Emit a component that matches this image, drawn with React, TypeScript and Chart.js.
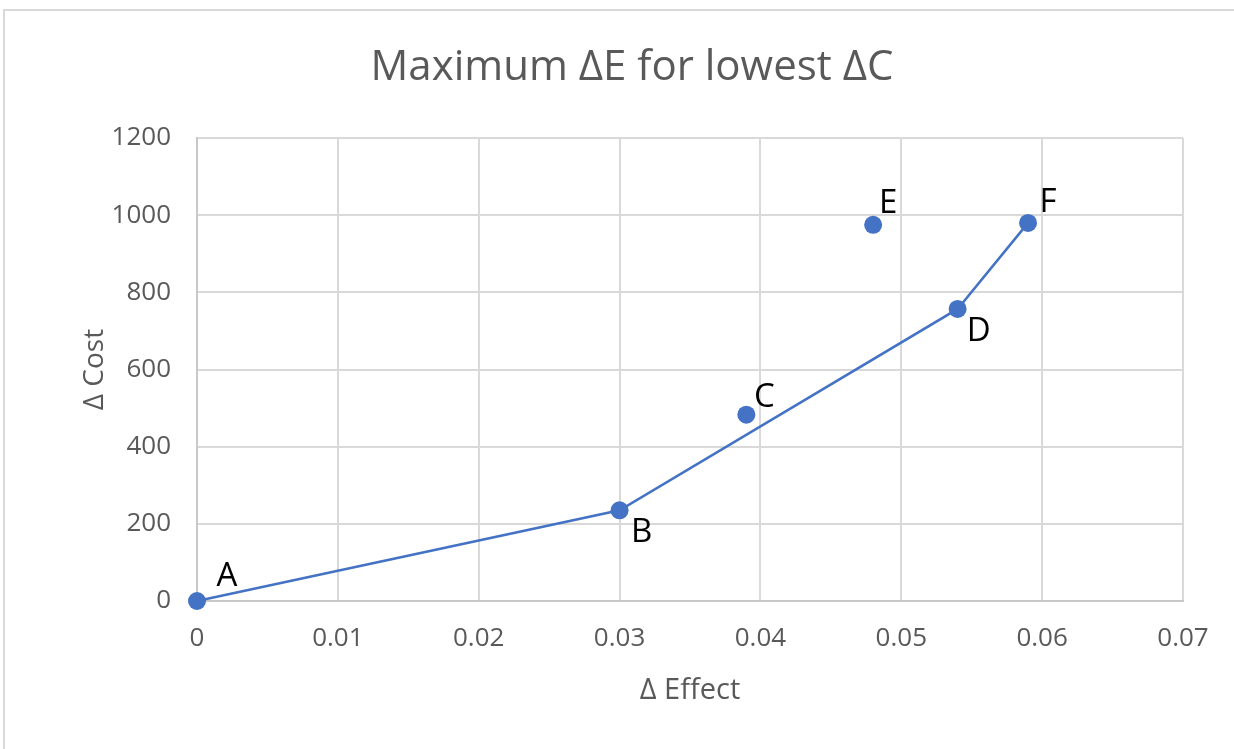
import React, { useEffect, useRef } from "react";
import { Chart, registerables } from "chart.js";

Chart.register(...registerables);

// ---- data ----
const chartTitle = "Maximum ΔE for lowest ΔC";
const pointNames = ["A", "B", "C", "D", "E", "F"];
const effectValues = [0, 0.03, 0.039, 0.054, 0.048, 0.059];
const costValues = [0, 235, 483, 757, 975, 980];
const frontierNames = ["A", "B", "D", "F"];
const xTicks = [0, 0.01, 0.02, 0.03, 0.04, 0.05, 0.06, 0.07];
const yTicks = [0, 200, 400, 600, 800, 1000, 1200];

// ---- label placement (style, not data) ----
const labelOffsets: Record<string, [number, number]> = {
  A: [30, -24],
  B: [22, 22],
  C: [18, -17],
  D: [21, 23],
  E: [15, -21],
  F: [20, -20],
};

const BLUE = "#4472C4";
const GRID = "#d9d9d9";
const TEXT = "#595959";
const FONT = "'Open Sans', 'Noto Sans', sans-serif";

export default function App() {
  const canvasRef = useRef<HTMLCanvasElement | null>(null);

  useEffect(() => {
    const canvas = canvasRef.current;
    if (!canvas) return;

    const allPoints = pointNames.map((n, i) => ({ x: effectValues[i], y: costValues[i], name: n }));
    const frontierPoints = frontierNames.map((n) => {
      const i = pointNames.indexOf(n);
      return { x: effectValues[i], y: costValues[i] };
    });

    const framePlugin = {
      id: "frameAndTitle",
      beforeDraw(chart: any) {
        const ctx = chart.ctx;
        ctx.save();
        ctx.fillStyle = "#ffffff";
        ctx.fillRect(0, 0, chart.width, chart.height);
        ctx.strokeStyle = GRID;
        ctx.lineWidth = 2;
        ctx.strokeRect(4, 10, chart.width + 20, chart.height + 20);
        ctx.fillStyle = TEXT;
        ctx.font = `42px ${FONT}`;
        ctx.textAlign = "center";
        ctx.textBaseline = "middle";
        ctx.fillText(chartTitle, 632, 68);
        ctx.restore();
      },
    };

    const labelPlugin = {
      id: "pointLabels",
      afterDatasetsDraw(chart: any) {
        const ctx = chart.ctx;
        const meta = chart.getDatasetMeta(1);
        ctx.save();
        ctx.fillStyle = "#000000";
        ctx.font = `33px ${FONT}`;
        ctx.textAlign = "center";
        ctx.textBaseline = "middle";
        meta.data.forEach((el: any, i: number) => {
          const name = pointNames[i];
          const off = labelOffsets[name] || [15, -15];
          ctx.fillText(name, el.x + off[0], el.y + off[1]);
        });
        ctx.restore();
      },
    };

    const chart = new Chart(canvas, {
      type: "scatter",
      data: {
        datasets: [
          {
            label: "Frontier",
            data: frontierPoints,
            showLine: true,
            borderColor: BLUE,
            borderWidth: 2.5,
            pointRadius: 0,
            pointHoverRadius: 0,
            fill: false,
            clip: false,
          },
          {
            label: "Strategies",
            data: allPoints,
            showLine: false,
            backgroundColor: BLUE,
            borderColor: BLUE,
            borderWidth: 0,
            pointRadius: 9,
            pointHoverRadius: 9,
            clip: false,
          },
        ],
      },
      options: {
        responsive: false,
        animation: false,
        devicePixelRatio: 1,
        layout: { padding: { left: 0, right: 51, top: 138, bottom: 0 } },
        plugins: {
          legend: { display: false },
          tooltip: { enabled: false },
          title: { display: false },
        },
        scales: {
          x: {
            type: "linear",
            min: 0,
            max: 0.07,
            afterBuildTicks(scale: any) {
              scale.ticks = xTicks.map((v) => ({ value: v }));
            },
            afterFit(scale: any) {
              scale.height = 749 - 601;
            },
            ticks: {
              color: TEXT,
              font: { family: FONT, size: 26 },
              padding: 22,
              maxRotation: 0,
              callback: (v: any) => String(Number(v)),
            },
            grid: { color: GRID, lineWidth: 2, drawTicks: false },
            border: { color: "#c8c8c8", width: 2 },
            title: {
              display: true,
              text: "Δ Effect",
              color: TEXT,
              font: { family: FONT, size: 29, lineHeight: 1.2 },
              padding: { top: 41, bottom: 41 },
            },
          },
          y: {
            type: "linear",
            min: 0,
            max: 1200,
            afterBuildTicks(scale: any) {
              scale.ticks = yTicks.map((v) => ({ value: v }));
            },
            afterFit(scale: any) {
              scale.width = 197;
            },
            ticks: {
              color: TEXT,
              font: { family: FONT, size: 26 },
              padding: 26,
              callback: (v: any) => String(Number(v)),
            },
            grid: { color: GRID, lineWidth: 2, drawTicks: false },
            border: { color: "#c8c8c8", width: 2 },
            title: {
              display: true,
              text: "Δ Cost",
              color: TEXT,
              font: { family: FONT, size: 28, lineHeight: 1.2 },
              padding: { top: 78, bottom: 78 },
            },
          },
        },
      },
      plugins: [framePlugin, labelPlugin],
    } as any);

    return () => chart.destroy();
  }, []);

  return (
    <div style={{ position: "absolute", left: 0, top: 0, width: 1234, height: 749, background: "#fff" }}>
      <canvas ref={canvasRef} width={1234} height={749} style={{ display: "block" }} />
    </div>
  );
}
